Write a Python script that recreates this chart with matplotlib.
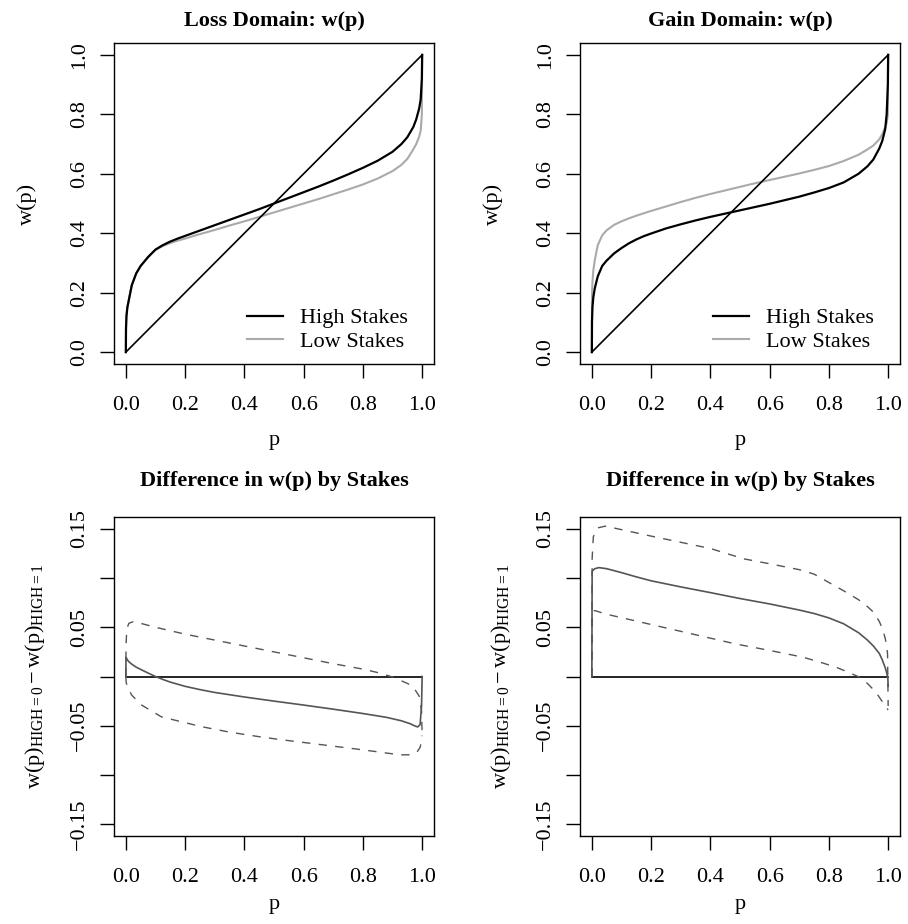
import numpy as np
import matplotlib
matplotlib.use("Agg")
import matplotlib.pyplot as plt

plt.rcParams['font.family'] = ['Liberation Serif', 'DejaVu Serif']
plt.rcParams['font.size'] = 16
plt.rcParams['mathtext.fontset'] = 'custom'
plt.rcParams['mathtext.rm'] = 'Liberation Serif'
plt.rcParams['mathtext.it'] = 'Liberation Serif:italic'
plt.rcParams['axes.unicode_minus'] = True

# ---- data ----
p_top = [0, 0.0005, 0.002, 0.005, 0.01, 0.02, 0.035, 0.05, 0.075, 0.1, 0.125, 0.15,
         0.175, 0.2, 0.25, 0.3, 0.35, 0.4, 0.45, 0.5, 0.55, 0.6, 0.65, 0.7, 0.75, 0.8,
         0.85, 0.9, 0.93, 0.95, 0.97, 0.98, 0.99, 0.995, 0.999, 1]
loss_high = [0, 0.08, 0.12, 0.15, 0.175, 0.225, 0.265, 0.29, 0.32, 0.345, 0.36, 0.372,
             0.382, 0.391, 0.409, 0.427, 0.445, 0.463, 0.481, 0.5, 0.519, 0.538, 0.557,
             0.577, 0.598, 0.62, 0.644, 0.674, 0.7, 0.723, 0.757, 0.783, 0.82, 0.85,
             0.92, 1.0]
loss_low = [0, 0.08, 0.12, 0.15, 0.175, 0.225, 0.265, 0.29, 0.319, 0.344, 0.357, 0.367,
            0.375, 0.382, 0.397, 0.411, 0.426, 0.44, 0.455, 0.47, 0.485, 0.5, 0.515,
            0.531, 0.547, 0.564, 0.584, 0.609, 0.63, 0.65, 0.682, 0.7, 0.725, 0.745,
            0.8, 1.0]
gain_high = [0, 0.1, 0.15, 0.185, 0.215, 0.255, 0.29, 0.308, 0.332, 0.35, 0.366, 0.379,
             0.39, 0.399, 0.416, 0.43, 0.443, 0.455, 0.466, 0.477, 0.488, 0.499, 0.511,
             0.523, 0.537, 0.552, 0.571, 0.6, 0.625, 0.648, 0.685, 0.71, 0.75, 0.8,
             0.9, 1.0]
gain_low = [0, 0.19, 0.235, 0.275, 0.31, 0.36, 0.393, 0.41, 0.428, 0.44, 0.45, 0.459,
            0.467, 0.475, 0.49, 0.505, 0.519, 0.532, 0.544, 0.556, 0.568, 0.579, 0.59,
            0.601, 0.613, 0.626, 0.643, 0.664, 0.682, 0.695, 0.716, 0.733, 0.756, 0.77,
            0.8, 1.0]
diag = [0, 1]
zero = [0, 0]

# difference in w(p), loss domain
loss_d_p = [0, 0.0005, 0.005, 0.01, 0.02, 0.035, 0.05, 0.075, 0.1, 0.125, 0.15, 0.2,
            0.25, 0.3, 0.4, 0.5, 0.6, 0.7, 0.8, 0.88, 0.93, 0.96, 0.975, 0.985, 0.993,
            0.998, 1]
loss_d = [0, 0.0195, 0.017, 0.015, 0.0125, 0.0095, 0.0072, 0.0035, 0.0, -0.003,
          -0.0057, -0.0100, -0.0133, -0.0162, -0.0208, -0.025, -0.029, -0.0332, -0.0376,
          -0.0415, -0.045, -0.048, -0.0502, -0.0512, -0.049, -0.03, 0]
loss_up_p = [0, 0.0005, 0.003, 0.01, 0.025, 0.05, 0.1, 0.2, 0.3, 0.4, 0.5, 0.6, 0.7,
             0.8, 0.85, 0.9, 0.95, 0.97, 0.99, 0.998, 1]
loss_up = [0, 0.03, 0.048, 0.054, 0.0557, 0.054, 0.05, 0.043, 0.037, 0.031, 0.025,
           0.019, 0.013, 0.0075, 0.004, -0.0005, -0.007, -0.0106, -0.02, -0.035, -0.06]
loss_lo_p = [0, 0.001, 0.004, 0.008, 0.02, 0.053, 0.12, 0.256, 0.35, 0.447, 0.514, 0.6,
             0.712, 0.8, 0.926, 0.96, 0.982, 0.993, 0.999, 1]
loss_lo = [0, -0.006, -0.009, -0.0123, -0.019, -0.029, -0.041, -0.051, -0.0565, -0.061,
           -0.0638, -0.067, -0.0712, -0.0745, -0.0796, -0.0795, -0.077, -0.072, -0.0645,
           -0.06]

# difference in w(p), gain domain
gain_d_p = [0, 0.001, 0.01, 0.024, 0.05, 0.1, 0.15, 0.2, 0.3, 0.4, 0.5, 0.6, 0.7, 0.75,
            0.8, 0.85, 0.9, 0.93, 0.95, 0.97, 0.98, 0.99, 0.995, 0.999, 1]
gain_d = [0, 0.107, 0.1095, 0.1106, 0.1095, 0.1055, 0.1012, 0.0972, 0.091, 0.0852,
          0.0792, 0.0737, 0.0675, 0.064, 0.0595, 0.0535, 0.0445, 0.037, 0.031, 0.0235,
          0.017, 0.009, 0.004, -0.002, -0.01]
gain_up_p = [0, 0.001, 0.005, 0.02, 0.046, 0.2, 0.4, 0.513, 0.6, 0.7, 0.75, 0.8, 0.85,
             0.9, 0.93, 0.95, 0.97, 0.98, 0.99, 0.995, 0.998, 1]
gain_up = [0, 0.12, 0.142, 0.151, 0.1527, 0.1426, 0.13, 0.1195, 0.1145, 0.1085, 0.104,
           0.0955, 0.087, 0.078, 0.071, 0.0655, 0.056, 0.049, 0.039, 0.031, 0.023, -0.03]
gain_lo_p = [0, 0.001, 0.01, 0.046, 0.2, 0.486, 0.6, 0.711, 0.76, 0.823, 0.86, 0.902,
             0.93, 0.958, 0.981, 0.995, 1]
gain_lo = [0, 0.066, 0.067, 0.0635, 0.0528, 0.033, 0.0265, 0.0197, 0.0155, 0.0096,
           0.005, -0.0005, -0.007, -0.0157, -0.0258, -0.032, -0.034]

W, H = 908, 924
fig = plt.figure(figsize=(W / 100, H / 100), dpi=100)


def add_ax(x0, y0, x1, y1):
    # pixel box -> figure fraction
    return fig.add_axes([x0 / W, 1 - y1 / H, (x1 - x0) / W, (y1 - y0) / H])


def style(ax):
    for s in ax.spines.values():
        s.set_linewidth(1.0)
    ax.tick_params(direction='out', length=10, width=1.0)
    ax.tick_params(axis='x', pad=13)
    ax.tick_params(axis='y', pad=8)
    ax.set_xlim(-0.04, 1.04)
    ax.set_xticks([0, 0.2, 0.4, 0.6, 0.8, 1.0])
    ax.set_xticklabels(['0.0', '0.2', '0.4', '0.6', '0.8', '1.0'])
    for lab in ax.get_yticklabels():
        lab.set_rotation(90)
        lab.set_va('center')
        lab.set_ha('right')


def top_panel(ax, title, high, low):
    ax.plot(p_top, low, color='#aaaaaa', lw=1.5, label='Low Stakes')
    ax.plot(p_top, high, color='black', lw=1.6, label='High Stakes')
    ax.plot(diag, diag, color='black', lw=1.2)
    ax.set_ylim(-0.04, 1.04)
    ax.set_yticks([0, 0.2, 0.4, 0.6, 0.8, 1.0])
    ax.set_yticklabels(['0.0', '0.2', '0.4', '0.6', '0.8', '1.0'])
    style(ax)
    h, l = ax.get_legend_handles_labels()
    ax.legend(h[::-1], l[::-1], frameon=False, loc='upper left',
              bbox_to_anchor=(0.4156, 0.175), borderaxespad=0, borderpad=0,
              handlelength=1.64, handletextpad=0.73, labelspacing=0.15)
    ax.text(0.5, 1.054, title, transform=ax.transAxes, ha='center', va='baseline',
            weight='bold')
    ax.set_xlabel('p', va='baseline')
    ax.xaxis.set_label_coords(0.5, -0.252)
    ax.set_ylabel('w(p)', va='bottom')
    ax.yaxis.set_label_coords(-0.24, 0.5)


def bottom_panel(ax, d_p, d, up_p, up, lo_p, lo):
    ax.plot(diag, zero, color='black', lw=1.2)
    ax.plot(d_p, d, color='#555555', lw=1.2)
    ax.plot(up_p, up, color='#555555', lw=1.0, linestyle=(0, (6, 6)))
    ax.plot(lo_p, lo, color='#555555', lw=1.0, linestyle=(0, (6, 6)))
    ax.set_ylim(-0.162, 0.162)
    ax.set_yticks([-0.15, -0.1, -0.05, 0, 0.05, 0.1, 0.15])
    ax.set_yticklabels(['\u22120.15', '', '\u22120.05', '', '0.05', '', '0.15'])
    style(ax)
    ax.text(0.5, 1.096, 'Difference in w(p) by Stakes', transform=ax.transAxes,
            ha='center', va='baseline', weight='bold')
    ax.set_xlabel('p', va='baseline')
    ax.xaxis.set_label_coords(0.5, -0.228)
    ax.set_ylabel(r'$\mathrm{w(p)_{HIGH=0}}-\mathrm{w(p)_{HIGH=1}}$', va='bottom')
    ax.yaxis.set_label_coords(-0.21, 0.5)


ax1 = add_ax(114, 43, 434, 364)
top_panel(ax1, 'Loss Domain: w(p)', loss_high, loss_low)
ax2 = add_ax(580, 43, 900, 364)
top_panel(ax2, 'Gain Domain: w(p)', gain_high, gain_low)
ax3 = add_ax(114, 517, 434, 836)
bottom_panel(ax3, loss_d_p, loss_d, loss_up_p, loss_up, loss_lo_p, loss_lo)
ax4 = add_ax(580, 517, 900, 836)
bottom_panel(ax4, gain_d_p, gain_d, gain_up_p, gain_up, gain_lo_p, gain_lo)

fig.savefig('out.png', dpi=100)
